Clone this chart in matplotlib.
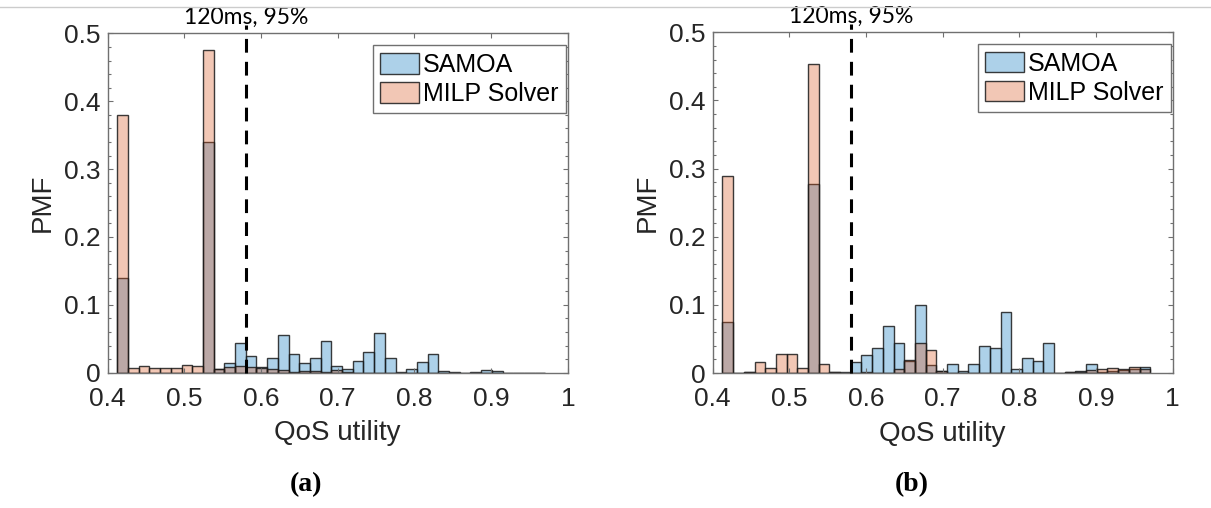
import numpy as np
import matplotlib
matplotlib.use('Agg')
from matplotlib import pyplot as plt
from matplotlib.ticker import MultipleLocator, FixedLocator
from matplotlib.patches import Patch
from matplotlib.lines import Line2D

# histogram bins (shared by both panels)
bin_start = 0.4127
bin_width = 0.01395
n_bins = 40
bin_edges = bin_start + bin_width * np.arange(n_bins + 1)

# (a) PMF per bin
samoa_a = [0.14, 0, 0, 0, 0, 0, 0, 0, 0.34, 0.006,
           0.015, 0.044, 0.024, 0.009, 0.021, 0.056, 0.028, 0.015, 0.022, 0.047,
           0.010, 0.006, 0.017, 0.031, 0.058, 0.021, 0.0015, 0.005, 0.016, 0.028,
           0.0025, 0.001, 0, 0.0005, 0.004, 0.002, 0, 0, 0, 0]
milp_a = [0.38, 0.0065, 0.0095, 0.0075, 0.0065, 0.0065, 0.011, 0.0093, 0.476, 0.006,
          0.0085, 0.0095, 0.008, 0.007, 0.005, 0.004, 0.0015, 0.003, 0.003, 0.0015,
          0.004, 0.001, 0, 0, 0, 0, 0, 0, 0, 0,
          0, 0, 0, 0, 0, 0, 0, 0, 0, 0]

# (b) PMF per bin
samoa_b = [0.075, 0, 0.001, 0, 0, 0, 0, 0, 0.277, 0,
           0.0015, 0.001, 0.016, 0.027, 0.037, 0.069, 0.044, 0.018, 0.100, 0.012,
           0.0025, 0.0137, 0.003, 0.0127, 0.040, 0.037, 0.089, 0.0054, 0.0216, 0.017,
           0.044, 0, 0.002, 0.0034, 0.013, 0.002, 0.003, 0.0045, 0.0054, 0.0083]
milp_b = [0.289, 0, 0.001, 0.016, 0.0074, 0.0275, 0.0275, 0.007, 0.454, 0.0127,
          0.0015, 0, 0, 0.001, 0, 0, 0.0064, 0.019, 0.0446, 0.034,
          0.0025, 0, 0, 0, 0, 0, 0, 0, 0, 0,
          0, 0, 0.002, 0.002, 0.0045, 0.0054, 0.007, 0.006, 0.0083, 0.0054]

threshold = 0.581
threshold_label = '120ms, 95%'
series_names = ['SAMOA', 'MILP Solver']
panel_labels = ['(a)', '(b)']
xticks = [0.4, 0.5, 0.6, 0.7, 0.8, 0.9, 1.0]
xticklabels = ['0.4', '0.5', '0.6', '0.7', '0.8', '0.9', '1']
yticks = [0, 0.1, 0.2, 0.3, 0.4, 0.5]
yticklabels = ['0', '0.1', '0.2', '0.3', '0.4', '0.5']

c_samoa = (0.0, 0.447, 0.741)
c_milp = (0.85, 0.325, 0.098)
fa = 0.32
edge = (0.1, 0.1, 0.1, 0.85)
spine_c = '#707070'
text_c = '#262626'

plt.rcParams['font.family'] = ['Liberation Sans', 'DejaVu Sans']

fig = plt.figure(figsize=(12.11, 5.08), dpi=100)
axes_pos = [[0.0889, 0.2663, 0.380, 0.668],
            [0.5885, 0.2657, 0.3799, 0.6707]]
data = [(samoa_a, milp_a), (samoa_b, milp_b)]
panel_x = [0.2527, 0.7531]

for k, (s, m) in enumerate(data):
    ax = fig.add_axes(axes_pos[k])
    ax.bar(bin_edges[:-1], s, width=bin_width, align='edge',
           facecolor=c_samoa + (fa,), edgecolor=edge, linewidth=1.0)
    ax.bar(bin_edges[:-1], m, width=bin_width, align='edge',
           facecolor=c_milp + (fa,), edgecolor=edge, linewidth=1.0)
    ax.set_xlim(0.4, 1.0)
    ax.set_ylim(0, 0.5)
    ax.xaxis.set_major_locator(FixedLocator(xticks))
    ax.set_xticklabels(xticklabels)
    ax.yaxis.set_major_locator(FixedLocator(yticks))
    ax.set_yticklabels(yticklabels)
    ax.yaxis.set_minor_locator(MultipleLocator(0.02))
    ax.tick_params(which='both', direction='in', top=True, right=True,
                   color=spine_c, labelcolor=text_c, labelsize=19)
    ax.tick_params(which='major', length=3.6, width=0.8)
    ax.tick_params(which='minor', length=2.0, width=0.8)
    ax.tick_params(axis='x', pad=10)
    ax.tick_params(axis='y', pad=5)
    for sp in ax.spines.values():
        sp.set_color(spine_c)
        sp.set_linewidth(1.0)
    ax.set_xlabel('QoS utility', fontsize=20, color=text_c, labelpad=7)
    ax.set_ylabel('PMF', fontsize=20, color=text_c, labelpad=6)

    ax.plot([threshold, threshold], [0, 0.512], color='black', lw=2.2,
            dashes=(4.5, 3), clip_on=False, zorder=5)
    ax.text(threshold, 0.514, threshold_label, ha='center', va='baseline',
            fontsize=16.5, family=['Lato', 'DejaVu Sans'], color='black')

    handles = [Patch(facecolor=c + (fa,), edgecolor=edge, linewidth=1.0)
               for c in (c_samoa, c_milp)]
    leg = ax.legend(handles, series_names, loc='upper right',
                    bbox_to_anchor=(0.996, 0.965), borderaxespad=0,
                    fontsize=18, handlelength=1.55, handleheight=0.9,
                    handletextpad=0.15, borderpad=0.3, labelspacing=0.2,
                    fancybox=False, framealpha=1, edgecolor=spine_c)
    leg.get_frame().set_linewidth(1.0)

    fig.text(panel_x[k], 0.034, panel_labels[k], ha='center', va='baseline',
             fontsize=20, fontweight='bold', family='Liberation Serif')

# thin page border at the top
fig.add_artist(Line2D([0, 1], [0.9856, 0.9856], transform=fig.transFigure,
                      color='#cccccc', lw=1.0))

fig.savefig('out.png', dpi=100)
